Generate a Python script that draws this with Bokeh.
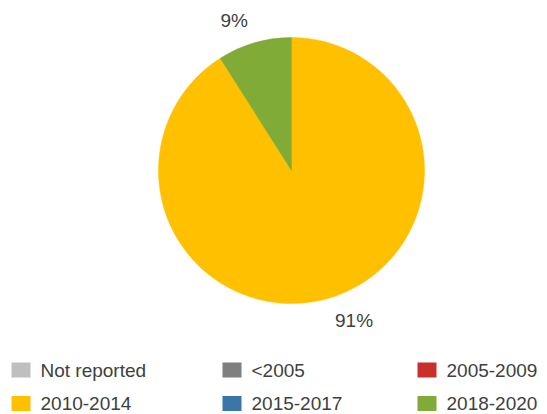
import math
from bokeh.plotting import figure
from bokeh.models import Range1d, ColumnDataSource
from bokeh.core.properties import value
from bokeh.embed import file_html
from bokeh.resources import INLINE

categories = ["Not reported", "<2005", "2005-2009", "2010-2014", "2015-2017", "2018-2020"]
shares = [0, 0, 0, 91, 0, 9]
colors = ["#BFBFBF", "#7F7F7F", "#C9302C", "#FFC000", "#3A77A8", "#7FAB36"]

W, H = 547, 414
p = figure(width=W, height=H, output_backend="svg", toolbar_location=None,
           x_range=Range1d(0, W), y_range=Range1d(0, H),
           min_border=0, outline_line_color=None)
p.axis.visible = False
p.grid.visible = False
p.background_fill_color = "white"
p.border_fill_color = "white"

cx, cy, r = 291, H - 170, 133
total = float(sum(shares))

starts, ends, cols, lx, ly, ltxt, lalign = [], [], [], [], [], [], []
angle = math.pi / 2
for i in [k for k in range(len(categories)) if shares[k] > 0]:
    sweep = shares[i] / total * 2 * math.pi
    a_end = angle
    a_start = angle - sweep
    starts.append(a_start)
    ends.append(a_end)
    cols.append(colors[i])
    mid = (a_start + a_end) / 2
    lr = 156
    lx.append(cx + lr * math.cos(mid))
    ly.append(cy + lr * math.sin(mid))
    ltxt.append(f"{shares[i]:.0f}%")
    lalign.append("right" if math.cos(mid) < 0 else "left")
    angle = a_start

src = ColumnDataSource(dict(s=starts, e=ends, c=cols))
p.wedge(x=cx, y=cy, radius=r, start_angle="s", end_angle="e", fill_color="c",
        line_color="c", line_width=0.5, source=src)

lsrc = ColumnDataSource(dict(x=lx, y=ly, t=ltxt, a=lalign))
p.text(x="x", y="y", text="t", text_align="a", text_baseline="middle",
       text_font=value("Liberation Sans"), text_font_size="19px",
       text_color="#404040", source=lsrc)

col_x = [11, 222, 417]
row_y = [H - 369.5, H - 403]
sq_x, sq_y, sq_c, tx, ty, tt = [], [], [], [], [], []
for i, name in enumerate(categories):
    rr, cc = divmod(i, 3)
    sq_x.append(col_x[cc] + 9.5)
    sq_y.append(row_y[rr])
    sq_c.append(colors[i])
    tx.append(col_x[cc] + 29)
    ty.append(row_y[rr])
    tt.append(name)
p.rect(x=sq_x, y=sq_y, width=19, height=15, fill_color=sq_c, line_color=None)
p.text(x=tx, y=ty, text=tt, text_align="left", text_baseline="middle",
       text_font=value("Liberation Sans"), text_font_size="19px",
       text_color="#404040")

open("out.html", "w").write(file_html(p, INLINE))
